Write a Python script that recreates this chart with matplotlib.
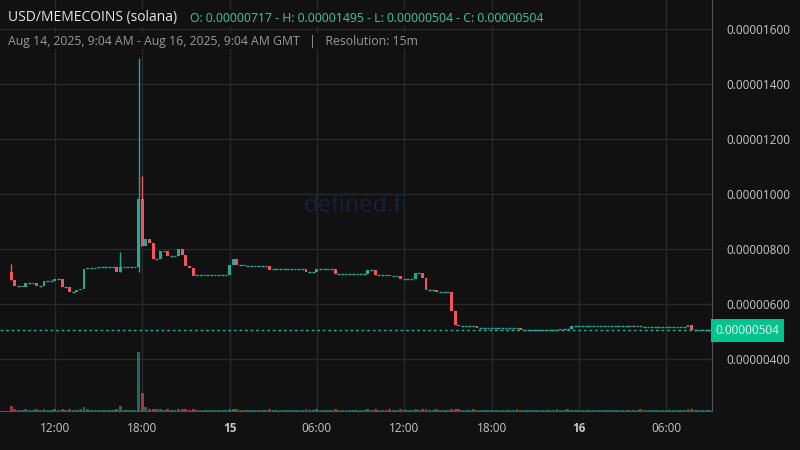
import matplotlib
matplotlib.use("Agg")
import matplotlib.pyplot as plt
from matplotlib.ticker import FixedLocator, FuncFormatter

plt.rcParams['font.family'] = ['Open Sans', 'DejaVu Sans']

# closes in units of 1e-6 USD, one per 15-min candle starting 09:00 Aug 14
closes = [
    6.87, 6.65, 6.66, 6.62, 6.76, 6.76, 6.76, 6.65, 6.65, 6.84,
    6.84, 6.84, 6.92, 6.92, 6.63, 6.63, 6.45, 6.45, 6.51, 6.56,
    7.27, 7.32, 7.32, 7.32, 7.35, 7.35, 7.35, 7.35, 7.35, 7.18,
    7.35, 7.35, 7.35, 7.35, 7.35, 9.82, 8.12, 8.36, 8.23, 7.65,
    7.65, 7.93, 7.93, 7.74, 7.74, 7.74, 8.00, 7.79, 7.38, 7.31,
    7.03, 7.04, 7.04, 7.04, 7.04, 7.04, 7.04, 7.04, 7.04, 7.04,
    7.42, 7.63, 7.42, 7.42, 7.39, 7.39, 7.39, 7.39, 7.39, 7.39,
    7.39, 7.25, 7.26, 7.26, 7.26, 7.26, 7.26, 7.26, 7.26, 7.26,
    7.26, 7.16, 7.17, 7.17, 7.27, 7.27, 7.27, 7.27, 7.27, 7.10,
    7.10, 7.10, 7.10, 7.10, 7.10, 7.10, 7.10, 7.10, 7.24, 7.24,
    7.06, 7.06, 7.06, 7.05, 7.00, 7.00, 7.00, 6.92, 6.92, 6.92,
    6.92, 7.13, 7.13, 6.96, 6.51, 6.51, 6.51, 6.44, 6.44, 6.44,
    6.44, 5.75, 5.24, 5.20, 5.20, 5.20, 5.20, 5.20, 5.13, 5.13,
    5.13, 5.13, 5.13, 5.13, 5.13, 5.13, 5.13, 5.13, 5.13, 5.13,
    5.06, 5.06, 5.06, 5.06, 5.06, 5.06, 5.06, 5.06, 5.06, 5.06,
    5.06, 5.10, 5.10, 5.10, 5.20, 5.20, 5.20, 5.20, 5.20, 5.20,
    5.20, 5.20, 5.20, 5.20, 5.20, 5.20, 5.20, 5.20, 5.20, 5.20,
    5.20, 5.19, 5.19, 5.19, 5.17, 5.17, 5.17, 5.17, 5.17, 5.17,
    5.17, 5.17, 5.17, 5.17, 5.17, 5.17, 5.24, 5.04, 5.04, 5.04,
    5.04, 5.04, 5.04,
]
first_open = 7.16
# wicks: index -> (high, low)
wicks = {0: (7.45, 6.87), 30: (7.89, 7.18), 35: (14.95, 7.16), 36: (10.65, 8.12)}

volumes = [
    8, 3, 2, 2, 3, 2, 2, 3, 2, 3, 2, 2, 3, 2, 3, 2, 3, 2, 2, 3,
    7, 3, 2, 2, 2, 2, 2, 2, 2, 3, 8, 2, 2, 2, 2, 100, 30, 6, 4, 4,
    3, 3, 2, 3, 2, 2, 4, 3, 3, 2, 3, 2, 2, 2, 2, 2, 2, 2, 2, 2,
    4, 4, 3, 2, 2, 2, 2, 2, 2, 2, 2, 3, 2, 2, 2, 2, 2, 2, 2, 2,
    2, 3, 2, 2, 3, 2, 2, 2, 2, 3, 2, 2, 2, 2, 2, 2, 2, 2, 3, 2,
    3, 2, 2, 2, 3, 2, 2, 3, 2, 2, 2, 3, 2, 3, 4, 2, 2, 3, 2, 2,
    2, 4, 4, 3, 2, 2, 2, 3, 2, 2, 2, 2, 2, 2, 2, 2, 2, 2, 2, 3,
    2, 2, 2, 2, 2, 2, 2, 2, 2, 2, 3, 2, 2, 3, 2, 2, 2, 2, 2, 2,
    2, 2, 2, 2, 2, 2, 2, 2, 2, 2, 2, 2, 2, 3, 2, 2, 2, 2, 2, 2,
    2, 2, 2, 2, 2, 2, 3, 4, 2, 2, 2, 2, 2,
]

tick_pos = [12, 36, 60, 84, 108, 132, 156, 180]
tick_labels = ["12:00", "18:00", "15", "06:00", "12:00", "18:00", "16", "06:00"]
last_price = 5.04

GREEN = "#22ab94"
RED = "#f7525f"
BG = "#111111"
GRID = "#2a2a2a"

fig = plt.figure(figsize=(8, 4.5), dpi=100, facecolor=BG)
ax = fig.add_axes([0, 1 - 411 / 450, 712 / 800, 411 / 450])
ax.set_facecolor(BG)
ax2 = ax.twinx()

opens = [first_open] + closes[:-1]
for i, (o, c) in enumerate(zip(opens, closes)):
    col = GREEN if c >= o else RED
    h, l = wicks.get(i, (max(o, c), min(o, c)))
    if h > max(o, c) or l < min(o, c):
        ax.vlines(i, l * 1e-6, h * 1e-6, color=col, lw=1, zorder=3)
    hgt = abs(c - o)
    if hgt < 0.03:
        ax.hlines(c * 1e-6, i - 0.38, i + 0.38, color=col, lw=1, zorder=3)
    else:
        ax.bar(i, hgt * 1e-6, bottom=min(o, c) * 1e-6, width=0.8, color=col, lw=0, zorder=3)
    ax2.bar(i, volumes[i], width=0.8, color=col, alpha=0.6, lw=0)

ax.set_xlim(-3.1, 192.6)
ax.set_ylim(2.11e-6, 17.05e-6)
ax2.set_ylim(0, 100 * 411 / 59)
ax2.set_yticks([])
for s in ax2.spines.values():
    s.set_visible(False)

ax.yaxis.tick_right()
ax.yaxis.set_major_locator(FixedLocator([v * 1e-6 for v in [4, 6, 8, 10, 12, 14, 16]]))
ax.yaxis.set_major_formatter(FuncFormatter(lambda v, p: f"{v:.8f}"))
ax.set_xticks(tick_pos)
ax.set_xticklabels(tick_labels)
for lab in ax.get_xticklabels():
    if lab.get_text() in ("15", "16"):
        lab.set_fontweight("bold")
ax.tick_params(colors="#c8c8c8", labelsize=8.5, length=0, pad=8)
ax.tick_params(axis='y', pad=10)
ax.grid(True, color=GRID, lw=0.9, zorder=0)
ax.set_axisbelow(True)
for side in ("top", "left"):
    ax.spines[side].set_visible(False)
for side in ("right", "bottom"):
    ax.spines[side].set_color("#555555")

ax.axhline(last_price * 1e-6, color=GREEN, lw=1, ls=(0, (2, 2)), zorder=4)
ax.text(1.005, last_price * 1e-6, f"{last_price * 1e-6:.8f}", transform=ax.get_yaxis_transform(),
        ha="left", va="center", fontsize=8.5, color="white", zorder=6,
        bbox=dict(boxstyle="square,pad=0.4", fc="#00c48c", ec="none"), clip_on=False)

ax.text(0.5, 0.5, "defined.fi", transform=ax.transAxes, ha="center", va="center",
        fontsize=17, color="#1c1f3a", zorder=1)

fig.text(8 / 800, 1 - 18 / 450, "USD/MEMECOINS (solana)", color="#e6e6e6", fontsize=10, va="center",
         bbox=dict(fc=BG, ec="none", pad=1))
fig.text(190 / 800, 1 - 18 / 450, "O: 0.00000717 - H: 0.00001495 - L: 0.00000504 - C: 0.00000504",
         color="#3cc8a0", fontsize=8.8, va="center", bbox=dict(fc=BG, ec="none", pad=1))
fig.text(8 / 800, 1 - 41 / 450, "Aug 14, 2025, 9:04 AM - Aug 16, 2025, 9:04 AM GMT   |   Resolution: 15m",
         color="#9a9a9a", fontsize=8.8, va="center", bbox=dict(fc=BG, ec="none", pad=1))

fig.savefig("out.png", dpi=100, facecolor=BG)
